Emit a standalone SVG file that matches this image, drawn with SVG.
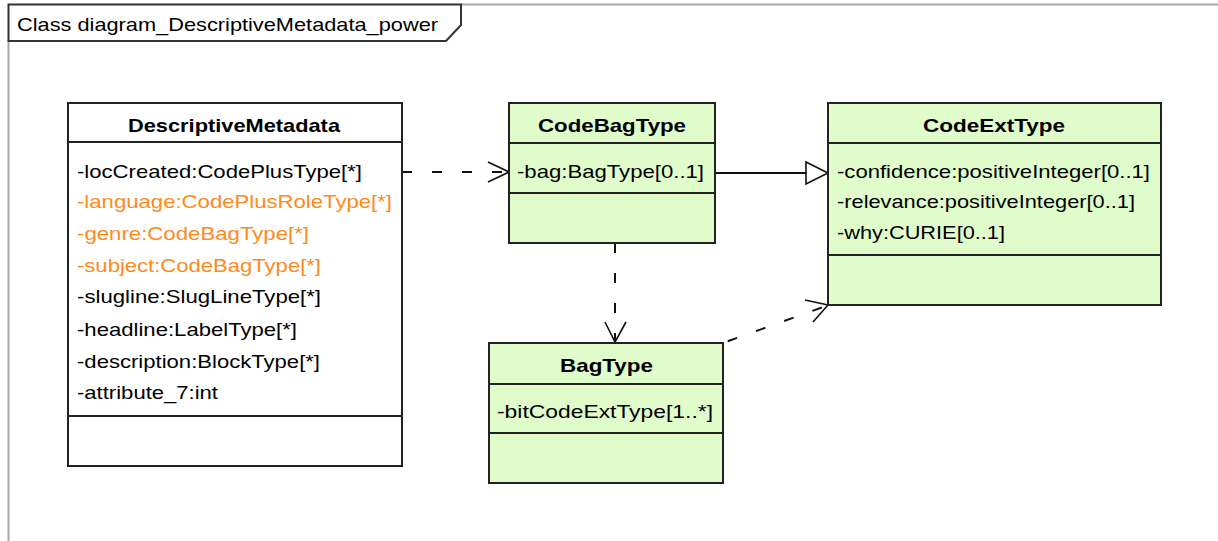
<svg xmlns="http://www.w3.org/2000/svg" width="1218" height="541" viewBox="0 0 1218 541">
<style>
.frame{fill:none;stroke:#a8a8a8;stroke-width:2}
.lbl{fill:#fff;stroke:#333;stroke-width:2}
.box{stroke:#222;stroke-width:2}
.white{fill:#fff}
.green{fill:#e1fccb}
.sep{stroke:#222;stroke-width:2}
.t{font-family:"Liberation Sans",Arial,sans-serif;font-size:19px;fill:#000}
.b{font-family:"Liberation Sans",Arial,sans-serif;font-size:19px;font-weight:bold;fill:#000}
.o{fill:#ff8a1c}
.dash{fill:none;stroke:#111;stroke-width:2;stroke-dasharray:10 20}
.solid{fill:none;stroke:#111;stroke-width:2}
.head{fill:none;stroke:#111;stroke-width:1.6}
.tri{fill:#fff;stroke:#111;stroke-width:1.6}
</style>
<rect width="1218" height="541" fill="#fff"/>
<g id="frame">
<line class="frame" x1="460" y1="4.5" x2="1218" y2="4.5"/>
<line class="frame" x1="8.5" y1="40" x2="8.5" y2="541"/>
<path class="lbl" d="M8.5,4.5 H461 V25 L446,41 H8.5 Z"/>
<text class="t" x="17" y="31" textLength="421" lengthAdjust="spacingAndGlyphs">Class diagram_DescriptiveMetadata_power</text>
</g>
<g id="connectors">
<line class="dash" x1="402" y1="172" x2="507" y2="172"/>
<polyline class="head" points="488,162 509,172 488,182"/>
<line class="solid" x1="715" y1="173" x2="806" y2="173"/>
<polygon class="tri" points="806,162 828,173 806,184"/>
<line class="dash" x1="615" y1="243" x2="615" y2="340"/>
<polyline class="head" points="605,322 615,342 626,322"/>
<line class="dash" x1="723" y1="343" x2="826" y2="306" stroke-dashoffset="-5"/>
<polyline class="head" points="805,300 828,305 813,322"/>
</g>
<g id="DescriptiveMetadata">
<rect class="box white" x="68" y="103" width="334" height="363"/>
<line class="sep" x1="68" y1="142" x2="402" y2="142"/>
<line class="sep" x1="68" y1="416" x2="402" y2="416"/>
<text class="b" x="128" y="132" textLength="212" lengthAdjust="spacingAndGlyphs">DescriptiveMetadata</text>
<text class="t" x="77" y="178" textLength="285" lengthAdjust="spacingAndGlyphs">-locCreated:CodePlusType[*]</text>
<text class="t o" x="77" y="208" textLength="315" lengthAdjust="spacingAndGlyphs">-language:CodePlusRoleType[*]</text>
<text class="t o" x="77" y="240" textLength="232" lengthAdjust="spacingAndGlyphs">-genre:CodeBagType[*]</text>
<text class="t o" x="77" y="272" textLength="244" lengthAdjust="spacingAndGlyphs">-subject:CodeBagType[*]</text>
<text class="t" x="77" y="303" textLength="244" lengthAdjust="spacingAndGlyphs">-slugline:SlugLineType[*]</text>
<text class="t" x="77" y="336" textLength="220" lengthAdjust="spacingAndGlyphs">-headline:LabelType[*]</text>
<text class="t" x="77" y="368" textLength="243" lengthAdjust="spacingAndGlyphs">-description:BlockType[*]</text>
<text class="t" x="77" y="399" textLength="141" lengthAdjust="spacingAndGlyphs">-attribute_7:int</text>
</g>
<g id="CodeBagType">
<rect class="box green" x="509" y="103" width="206" height="140"/>
<line class="sep" x1="509" y1="143" x2="715" y2="143"/>
<line class="sep" x1="509" y1="193" x2="715" y2="193"/>
<text class="b" x="538" y="132" textLength="148" lengthAdjust="spacingAndGlyphs">CodeBagType</text>
<text class="t" x="517" y="178" textLength="187" lengthAdjust="spacingAndGlyphs">-bag:BagType[0..1]</text>
</g>
<g id="CodeExtType">
<rect class="box green" x="828" y="103" width="333" height="202"/>
<line class="sep" x1="828" y1="143" x2="1161" y2="143"/>
<line class="sep" x1="828" y1="255" x2="1161" y2="255"/>
<text class="b" x="923" y="132" textLength="142" lengthAdjust="spacingAndGlyphs">CodeExtType</text>
<text class="t" x="837" y="178" textLength="313" lengthAdjust="spacingAndGlyphs">-confidence:positiveInteger[0..1]</text>
<text class="t" x="837" y="208" textLength="298" lengthAdjust="spacingAndGlyphs">-relevance:positiveInteger[0..1]</text>
<text class="t" x="837" y="239" textLength="168" lengthAdjust="spacingAndGlyphs">-why:CURIE[0..1]</text>
</g>
<g id="BagType">
<rect class="box green" x="489" y="343" width="234" height="140"/>
<line class="sep" x1="489" y1="384" x2="723" y2="384"/>
<line class="sep" x1="489" y1="433" x2="723" y2="433"/>
<text class="b" x="560" y="372" textLength="93" lengthAdjust="spacingAndGlyphs">BagType</text>
<text class="t" x="497" y="418" textLength="216" lengthAdjust="spacingAndGlyphs">-bitCodeExtType[1..*]</text>
</g>
</svg>
